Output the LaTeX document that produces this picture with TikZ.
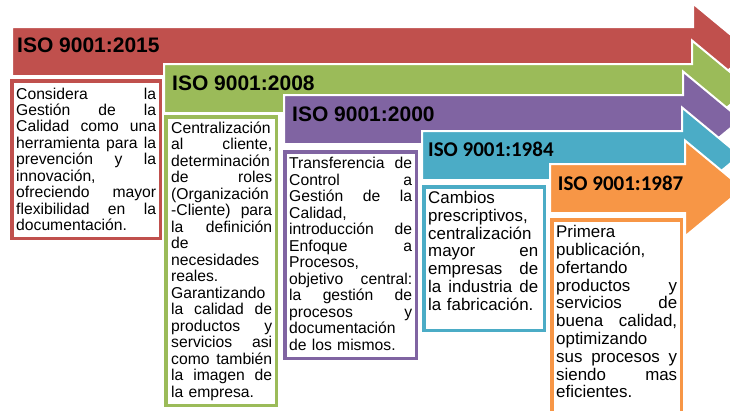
\documentclass[tikz,border=0pt]{standalone}
\usepackage{fontspec}
\setmainfont{Liberation Sans}
\newfontfamily\carlito{Carlito}
\definecolor{cRed}{HTML}{C0504D}
\definecolor{cGreen}{HTML}{9BBB59}
\definecolor{cPurple}{HTML}{8064A2}
\definecolor{cBlue}{HTML}{4BACC6}
\definecolor{cOrange}{HTML}{F79646}
\newdimen\jw
\jw=100pt
\newcommand\jl[1]{\leavevmode\hbox to \jw{\spaceskip=0.28em plus 1fil\relax #1}}
\newcommand\isoarrow[4]{%
  \fill[#1, draw=white, line width=2pt, line join=miter]
    (#2,#3) -- (#4,#3) -- (#4,#3-23.5) -- (#4+58,#3+24.5) -- (#4,#3+72.5)
    -- (#4,#3+49) -- (#2,#3+49) -- cycle;}
\begin{document}
\begin{tikzpicture}[x=1pt,y=-1pt,
  ttl/.style={anchor=base west, inner sep=0pt, font=\bfseries\fontsize{21}{24}\selectfont},
  ttlc/.style={anchor=base west, inner sep=0pt, font=\carlito\bfseries\fontsize{21}{24}\selectfont},
  txtA/.style={anchor=base west, inner sep=0pt, align=left, font=\fontsize{15.7}{16.45}\selectfont},
  txtB/.style={anchor=base west, inner sep=0pt, align=left, font=\fontsize{16.9}{17.8}\selectfont},
  tbox/.style={draw=#1, fill=white, line width=3.5pt}]
\useasboundingbox (0,0) rectangle (730,410);
% arrows
\isoarrow{cRed}{12}{27}{693}
\isoarrow{cGreen}{164}{64}{692}
\isoarrow{cPurple}{284}{95}{683}
\isoarrow{cBlue}{422}{131}{682}
\isoarrow{cOrange}{550}{164}{685}
% titles
\node[ttl] (t2015) at (17,52.3) {ISO 9001:2015};
\node[ttl] (t2008) at (172,90.7) {ISO 9001:2008};
\node[ttl] (t2000) at (292,121.7) {ISO 9001:2000};
\node[ttlc] (t1984) at (428,156.7) {ISO 9001:1984};
\node[ttlc] (t1987) at (557.7,190) {ISO 9001:1987};
% boxes
\draw[tbox=cRed] (11.75,80.75) rectangle (160.25,238.25);
\draw[tbox=cGreen] (165.75,116.75) rectangle (276.25,405.25);
\draw[tbox=cPurple] (284.75,151.75) rectangle (416.25,358.25);
\draw[tbox=cBlue] (423.75,186.75) rectangle (544.25,330.25);
\draw[tbox=cOrange] (551.75,219.75) rectangle (681.25,425);
% texts
\node[txtA, text width=140pt] (x2015) at (16,99) {\jw=140pt%
\jl{Considera la}\\
\jl{Gestión de la}\\
\jl{Calidad como una}\\
\jl{herramienta para la}\\
\jl{prevención y la}\\
innovación,\\
\jl{ofreciendo mayor}\\
\jl{flexibilidad en la}\\
documentación.};
\node[txtA, text width=101pt, font=\fontsize{15.7}{16.5}\selectfont] (x2008) at (171,133) {\jw=101pt%
Centralización\\
\jl{al cliente,}\\
determinación\\
\jl{de roles}\\
(Organización\\
\jl{-Cliente) para}\\
\jl{la definición}\\
de\\
necesidades\\
reales.\\
Garantizando\\
\jl{la calidad de}\\
\jl{productos y}\\
\jl{servicios asi}\\
\jl{como también}\\
\jl{la imagen de}\\
la empresa.};
\node[txtA, text width=123pt, font=\fontsize{15.7}{16.5}\selectfont] (x2000) at (289,168.5) {\jw=123pt%
\jl{Transferencia de}\\
\jl{Control a}\\
\jl{Gestión de la}\\
Calidad,\\
\jl{introducción de}\\
\jl{Enfoque a}\\
Procesos,\\
\jl{objetivo central:}\\
\jl{la gestión de}\\
\jl{procesos y}\\
documentación\\
de los mismos.};
\node[txtB, text width=110pt] (x1984) at (428,203.5) {\jw=110pt%
Cambios\\
prescriptivos,\\
centralización\\
\jl{mayor en}\\
\jl{empresas de}\\
\jl{la industria de}\\
la fabricación.};
\node[txtB, text width=121pt] (x1987) at (556,237.7) {\jw=121pt%
Primera\\
publicación,\\
ofertando\\
\jl{productos y}\\
\jl{servicios de}\\
\jl{buena calidad,}\\
optimizando\\
\jl{sus procesos y}\\
\jl{siendo mas}\\
eficientes.};
\end{tikzpicture}
\end{document}
